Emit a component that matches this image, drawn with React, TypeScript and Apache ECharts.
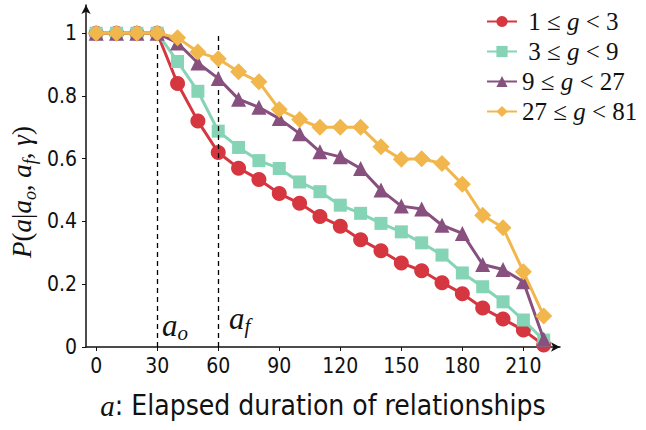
import React, { useEffect, useRef } from "react";
import * as echarts from "echarts";

const xValues = [0, 10, 20, 30, 40, 50, 60, 70, 80, 90, 100, 110, 120, 130, 140, 150, 160, 170, 180, 190, 200, 210, 220];
const xTicks = [0, 30, 60, 90, 120, 150, 180, 210];
const yTicks = [0, 0.2, 0.4, 0.6, 0.8, 1];
const markers = [30, 60];

const red = [1, 1, 1, 1, 0.84, 0.72, 0.62, 0.57, 0.534, 0.489, 0.458, 0.416, 0.385, 0.342, 0.307, 0.268, 0.243, 0.205, 0.17, 0.124, 0.089, 0.054, 0.006];
const teal = [1, 1, 1, 1, 0.91, 0.815, 0.688, 0.636, 0.594, 0.569, 0.526, 0.495, 0.452, 0.426, 0.394, 0.367, 0.332, 0.293, 0.236, 0.192, 0.144, 0.086, 0.022];
const purple = [1, 1, 1, 1, 0.969, 0.905, 0.856, 0.79, 0.764, 0.728, 0.68, 0.622, 0.606, 0.569, 0.5, 0.449, 0.44, 0.388, 0.362, 0.263, 0.247, 0.208, 0.025];
const orange = [1, 1, 1, 1, 0.986, 0.94, 0.919, 0.877, 0.845, 0.757, 0.725, 0.7, 0.7, 0.7, 0.638, 0.598, 0.6, 0.585, 0.519, 0.42, 0.38, 0.24, 0.099];

const seriesNames = ["{n| 1 ≤ }{i|g}{n| < 3}", "{n| 3 ≤ }{i|g}{n| < 9}", "{n|9 ≤ }{i|g}{n| < 27}", "{n|27 ≤ }{i|g}{n| < 81}"];
const seriesValues = [red, teal, purple, orange];
const colors = ["#d6363f", "#84d4b5", "#87507f", "#f1b64c"];
const symbols = ["circle", "rect", "triangle", "diamond"];
const symbolSizes = [15, 13, 15, 17];

const tickFont = "'Liberation Sans Narrow', 'DejaVu Sans Condensed', Roboto, sans-serif";
const serif = "'Liberation Serif', 'DejaVu Serif', serif";

export default function App() {
  const ref = useRef<HTMLDivElement>(null);
  useEffect(() => {
    if (!ref.current) return;
    const chart = echarts.init(ref.current, undefined, { renderer: "svg" });
    const series: any[] = seriesValues.map((vals, i) => ({
      name: seriesNames[i],
      type: "line",
      data: xValues.map((x, j) => [x, vals[j]]),
      symbol: symbols[i],
      symbolSize: symbolSizes[i],
      color: colors[i],
      lineStyle: { width: 3, color: colors[i] },
      itemStyle: { color: colors[i] },
      z: 3 + i,
      markLine:
        i === 0
          ? {
              silent: true,
              symbol: "none",
              label: { show: false },
              lineStyle: { color: "#000", type: [5, 4], width: 1.3 },
              data: markers.map((m) => [{ coord: [m, 0] }, { coord: [m, 1] }]),
            }
          : undefined,
    }));
    chart.setOption({
      animation: false,
      backgroundColor: "#fff",
      grid: { left: 86, right: 86, top: 5, bottom: 83 },
      legend: {
        orient: "vertical",
        left: 481,
        top: 4,
        itemWidth: 30,
        itemHeight: 14,
        itemGap: 5,
        data: seriesNames,
        textStyle: {
          fontFamily: serif,
          fontSize: 25,
          color: "#111",
          rich: {
            n: { fontFamily: serif, fontSize: 25, color: "#111" },
            i: { fontFamily: serif, fontStyle: "italic", fontSize: 25, color: "#111" },
          },
        },
      },
      xAxis: {
        type: "value",
        min: -5,
        max: 228,
        splitLine: { show: false },
        axisLine: {
          show: true,
          lineStyle: { color: "#111", width: 1.5 },
          symbol: ["none", "arrow"],
          symbolSize: [7, 9],
          onZero: false,
        },
        axisTick: { show: true, customValues: xTicks, length: 4, lineStyle: { color: "#111" } },
        axisLabel: {
          customValues: xTicks,
          color: "#111",
          fontFamily: tickFont,
          fontSize: 21,
          margin: 8,
        },
      },
      yAxis: {
        type: "value",
        min: 0,
        max: 1.09,
        splitLine: { show: false },
        axisLine: {
          show: true,
          lineStyle: { color: "#111", width: 1.5 },
          symbol: ["none", "arrow"],
          symbolSize: [7, 9],
          onZero: false,
        },
        axisTick: { show: true, customValues: yTicks, length: 4, lineStyle: { color: "#111" } },
        axisLabel: {
          customValues: yTicks,
          color: "#111",
          fontFamily: tickFont,
          fontSize: 21,
          margin: 9,
          formatter: (v: number) => String(Math.round(v * 10) / 10),
        },
      },
      graphic: [
        {
          type: "text",
          x: 22,
          y: 192,
          rotation: Math.PI / 2,
          style: {
            text: "{i|P}{n|(}{i|a}{n||}{i|a}{s|o}{n|, }{i|a}{s|f}{n|, }{i|γ}{n|)}",
            align: "center",
            verticalAlign: "middle",
            fill: "#111",
            rich: {
              n: { fontFamily: serif, fontSize: 27, lineHeight: 34, verticalAlign: "middle" },
              i: { fontFamily: serif, fontStyle: "italic", fontSize: 27, lineHeight: 34, verticalAlign: "middle" },
              s: { fontFamily: serif, fontStyle: "italic", fontSize: 18, lineHeight: 34, verticalAlign: "bottom" },
            },
          },
        },
        {
          type: "text",
          left: "center",
          top: 391,
          style: {
            text: "{i|a}{n|: Elapsed duration of relationships}",
            fill: "#111",
            rich: {
              i: { fontFamily: serif, fontStyle: "italic", fontSize: 29 },
              n: { fontFamily: tickFont, fontSize: 28 },
            },
          },
        },
        {
          type: "text",
          x: 162,
          y: 325,
          style: {
            text: "{i|a}{s|o}",
            fill: "#111",
            verticalAlign: "middle",
            rich: {
              i: { fontFamily: serif, fontStyle: "italic", fontSize: 31, lineHeight: 36, verticalAlign: "middle" },
              s: { fontFamily: serif, fontStyle: "italic", fontSize: 21, lineHeight: 36, verticalAlign: "bottom" },
            },
          },
        },
        {
          type: "text",
          x: 229,
          y: 318,
          style: {
            text: "{i|a}{s|f}",
            fill: "#111",
            verticalAlign: "middle",
            rich: {
              i: { fontFamily: serif, fontStyle: "italic", fontSize: 31, lineHeight: 36, verticalAlign: "middle" },
              s: { fontFamily: serif, fontStyle: "italic", fontSize: 21, lineHeight: 36, verticalAlign: "bottom" },
            },
          },
        },
      ],
      series,
    });
    return () => chart.dispose();
  }, []);
  return (
    <div
      ref={ref}
      style={{ position: "absolute", left: 0, top: 0, width: 646, height: 430 }}
    />
  );
}
